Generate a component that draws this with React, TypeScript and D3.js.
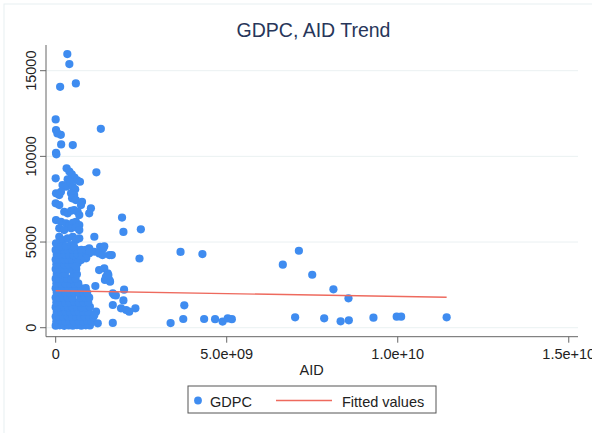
import React, { useEffect, useRef } from 'react'
import * as d3 from 'd3'

// AID in billions, GDPC value
const denseLow: [number, number][] = [
  [0.0, 120], [0.12, 140], [0.25, 110], [0.38, 130], [0.5, 120], [0.62, 150], [0.75, 120], [0.88, 140], [1.0, 130],
  [0.02, 380], [0.15, 400], [0.28, 370], [0.4, 390], [0.52, 380], [0.66, 410], [0.8, 380], [0.92, 400], [1.05, 370],
  [0.0, 650], [0.1, 640], [0.22, 660], [0.35, 650], [0.48, 630], [0.6, 660], [0.72, 640], [0.85, 650], [0.98, 660], [1.1, 620],
  [0.03, 920], [0.16, 930], [0.3, 910], [0.42, 920], [0.55, 940], [0.68, 910], [0.8, 930], [0.95, 920],
  [0.0, 1200], [0.12, 1190], [0.24, 1210], [0.36, 1200], [0.5, 1180], [0.62, 1210], [0.75, 1200], [0.88, 1190], [1.0, 1220],
  [0.02, 1480], [0.15, 1490], [0.28, 1470], [0.4, 1480], [0.55, 1500], [0.68, 1470], [0.82, 1490], [0.95, 1480],
  [0.0, 1760], [0.1, 1770], [0.22, 1750], [0.35, 1760], [0.48, 1740], [0.72, 1770], [0.86, 1760], [0.98, 1750],
  [0.03, 2050], [0.15, 2040], [0.28, 2060], [0.42, 2050], [0.55, 2030], [0.68, 2060], [0.8, 2050], [0.92, 2040],
]

const denseHigh: [number, number][] = [
  [0.0, 2300], [0.12, 2310], [0.25, 2290], [0.38, 2300], [0.5, 2320], [0.62, 2290], [0.75, 2300], [0.88, 2310],
  [0.02, 2580], [0.15, 2570], [0.28, 2590], [0.42, 2580], [0.55, 2560], [0.66, 2590],
  [0.0, 2860], [0.1, 2850], [0.22, 2870], [0.34, 2860], [0.46, 2840], [0.58, 2870],
  [0.03, 3140], [0.15, 3130], [0.27, 3150], [0.52, 3140], [0.62, 3120],
  [0.0, 3420], [0.12, 3410], [0.24, 3430], [0.36, 3420], [0.48, 3400], [0.6, 3430],
  [0.02, 3700], [0.14, 3690], [0.26, 3710], [0.38, 3700], [0.5, 3720],
  [0.0, 3980], [0.12, 3970], [0.24, 3990], [0.36, 3980], [0.48, 3960], [0.6, 3990],
  [0.03, 4260], [0.15, 4250], [0.27, 4270], [0.4, 4260], [0.52, 4240], [0.64, 4270], [0.78, 4260], [0.9, 4250],
  [0.0, 4540], [0.12, 4550], [0.24, 4530], [0.36, 4540], [0.48, 4560], [0.62, 4530], [0.75, 4540], [0.88, 4550], [1.0, 4520],
]

const midBand: [number, number][] = [
  [0.32, 9300], [0.4, 9110], [0.47, 8950], [0.55, 8760], [0.63, 8600], [0.71, 8520], [0.0, 8716],
  [0.2, 8325], [0.3, 8226], [0.35, 8658], [0.42, 8518], [0.5, 8226], [0.57, 8074],
  [0.01, 7841], [0.105, 7742], [0.155, 7934], [0.45, 7841], [0.54, 7742], [0.48, 7549], [0.59, 7450],
  [0.77, 7351], [0.74, 7159], [0.0, 7257], [0.105, 7159],
  [0.25, 6767], [0.35, 6674], [0.45, 6826], [0.54, 6866], [0.64, 6767], [0.69, 6575],
  [1.03, 6966], [0.98, 6674], [0.01, 6283], [0.155, 6184],
  [0.3, 6091], [0.4, 5992], [0.5, 6126], [0.59, 6184], [0.69, 5992],
  [0.105, 5800], [0.25, 5700], [0.45, 5800], [0.59, 5857], [0.69, 5700],
  [0.105, 5309], [0.205, 5117], [0.35, 5215], [0.5, 5309], [0.59, 5117], [0.69, 5215],
  [0.01, 4924], [0.155, 4726], [0.3, 4766], [0.45, 4825], [0.54, 4726],
  [1.13, 5309], [0.98, 4632],
]

const topPoints: [number, number][] = [
  [0.34, 15970], [0.4, 15384], [0.59, 14258], [0.13, 14060], [0.0, 12158], [0.01, 11534],
  [0.15, 11260], [0.05, 11340], [0.16, 10700], [0.5, 10660], [1.32, 11610], [0.01, 10210],
  [0.02, 10120], [1.19, 9066],
]

const sidePoints: [number, number][] = [
  [1.94, 6430], [1.98, 5590], [2.49, 5740],
  [1.42, 4750], [1.3, 4725], [1.39, 4630], [1.57, 4240], [1.64, 4240], [1.13, 4434], [1.27, 4340],
  [1.37, 4240], [0.98, 4340], [0.89, 4050], [0.74, 3950], [0.64, 3757], [0.59, 3560], [2.45, 4040],
  [1.27, 3366], [1.42, 3465], [1.52, 3174], [1.47, 2975], [1.57, 2783], [1.44, 2783], [1.59, 2684], [1.54, 3074],
  [1.16, 2433], [2.0, 2220], [1.67, 2007], [1.71, 1908], [1.76, 1880], [1.98, 1590], [1.67, 1324],
  [1.91, 1130], [2.06, 1033], [2.33, 1130], [2.15, 933], [1.18, 933], [1.13, 741], [1.23, 257], [1.67, 280],
]

const farPoints: [number, number][] = [
  [3.36, 270], [3.73, 508], [3.76, 1307], [3.65, 4420], [4.29, 4300], [4.34, 508], [4.66, 500],
  [4.88, 360], [5.03, 540], [5.15, 500], [6.64, 3676], [7.11, 4492], [7.5, 3092], [8.12, 2240],
  [8.56, 1715], [7.0, 607], [7.85, 548], [8.33, 373], [8.57, 432], [9.29, 583], [9.97, 642],
  [10.1, 642], [11.43, 607],
]

// fitted values (linear fit) at the ends of the AID range
const fitAid = [0, 11.43]
const fitGdpc = [2160, 1775]

const xTicks = [0, 5e9, 1e10, 1.5e10]
const xTickLabels = ['0', '5.0e+09', '1.0e+10', '1.5e+10']
const yTicks = [0, 5000, 10000, 15000]
const yTickLabels = ['0', '5000', '10000', '15000']

const FONT = '"Liberation Sans", Arial, Helvetica, sans-serif'
const BLUE = '#3f8cf0'
const RED = '#ee6a5e'

export default function App() {
  const ref = useRef<SVGSVGElement>(null)

  useEffect(() => {
    const svg = d3.select(ref.current)
    svg.selectAll('*').remove()

    const left = 46, right = 578, top = 45, bottom = 336.7

    const x = d3.scaleLinear().domain([-2.83e8, 1.527e10]).range([left, right])
    const y = d3.scaleLinear().domain([-525, 16500]).range([bottom, top])

    // outer graph frame
    svg.append('rect').attr('x', 4).attr('y', 4).attr('width', 700).attr('height', 500)
      .attr('fill', 'white').attr('stroke', '#e8f0f1').attr('stroke-width', 1)

    // gridlines
    svg.append('g').selectAll('line').data(yTicks).join('line')
      .attr('x1', left).attr('x2', right)
      .attr('y1', d => y(d)).attr('y2', d => y(d))
      .attr('stroke', '#eaf1f2').attr('stroke-width', 1)

    // points
    const all = [...denseLow, ...denseHigh, ...midBand, ...topPoints, ...sidePoints, ...farPoints]
    svg.append('g').selectAll('circle').data(all).join('circle')
      .attr('cx', d => x(d[0] * 1e9))
      .attr('cy', d => y(d[1]))
      .attr('r', 4.1)
      .attr('fill', BLUE)

    // fitted line
    svg.append('line')
      .attr('x1', x(fitAid[0] * 1e9)).attr('y1', y(fitGdpc[0]))
      .attr('x2', x(fitAid[1] * 1e9)).attr('y2', y(fitGdpc[1]))
      .attr('stroke', RED).attr('stroke-width', 1.4)

    // axes
    svg.append('line').attr('x1', left).attr('x2', left).attr('y1', top).attr('y2', bottom)
      .attr('stroke', '#666').attr('stroke-width', 1)
    svg.append('line').attr('x1', left).attr('x2', right).attr('y1', bottom).attr('y2', bottom)
      .attr('stroke', '#666').attr('stroke-width', 1)

    const yg = svg.append('g')
    yg.selectAll('line').data(yTicks).join('line')
      .attr('x1', left - 6).attr('x2', left).attr('y1', d => y(d)).attr('y2', d => y(d))
      .attr('stroke', '#666')
    yg.selectAll('text').data(yTicks).join('text')
      .attr('transform', d => `translate(35.5, ${y(d)}) rotate(-90)`)
      .attr('text-anchor', 'middle')
      .style('font-family', FONT).style('font-size', '14.5px').attr('fill', '#222')
      .text((d, i) => yTickLabels[i])

    const xg = svg.append('g')
    xg.selectAll('line').data(xTicks).join('line')
      .attr('x1', d => x(d)).attr('x2', d => x(d)).attr('y1', bottom).attr('y2', bottom + 6)
      .attr('stroke', '#666')
    xg.selectAll('text').data(xTicks).join('text')
      .attr('x', d => x(d)).attr('y', 358.5)
      .attr('text-anchor', 'middle')
      .style('font-family', FONT).style('font-size', '14.5px').attr('fill', '#222')
      .text((d, i) => xTickLabels[i])

    // titles
    svg.append('text').attr('x', 313.5).attr('y', 37).attr('text-anchor', 'middle')
      .style('font-family', FONT).style('font-size', '19.5px').attr('fill', '#27365a')
      .text('GDPC, AID Trend')
    svg.append('text').attr('x', 311.7).attr('y', 375).attr('text-anchor', 'middle')
      .style('font-family', FONT).style('font-size', '14.5px').attr('fill', '#222')
      .text('AID')

    // legend
    const lg = svg.append('g')
    lg.append('rect').attr('x', 188).attr('y', 386).attr('width', 248).attr('height', 27)
      .attr('fill', 'white').attr('stroke', '#555').attr('stroke-width', 1)
    lg.append('circle').attr('cx', 198).attr('cy', 400.5).attr('r', 3.9).attr('fill', BLUE)
    lg.append('text').attr('x', 210).attr('y', 406.5)
      .style('font-family', FONT).style('font-size', '14.5px').attr('fill', '#222').text('GDPC')
    lg.append('line').attr('x1', 276).attr('x2', 332).attr('y1', 400.5).attr('y2', 400.5)
      .attr('stroke', RED).attr('stroke-width', 1.4)
    lg.append('text').attr('x', 342).attr('y', 406.5)
      .style('font-family', FONT).style('font-size', '14.5px').attr('fill', '#222').text('Fitted values')
  }, [])

  return (
    <svg ref={ref} width={592} height={433}
      style={{ position: 'absolute', left: 0, top: 0, background: 'white' }} />
  )
}
